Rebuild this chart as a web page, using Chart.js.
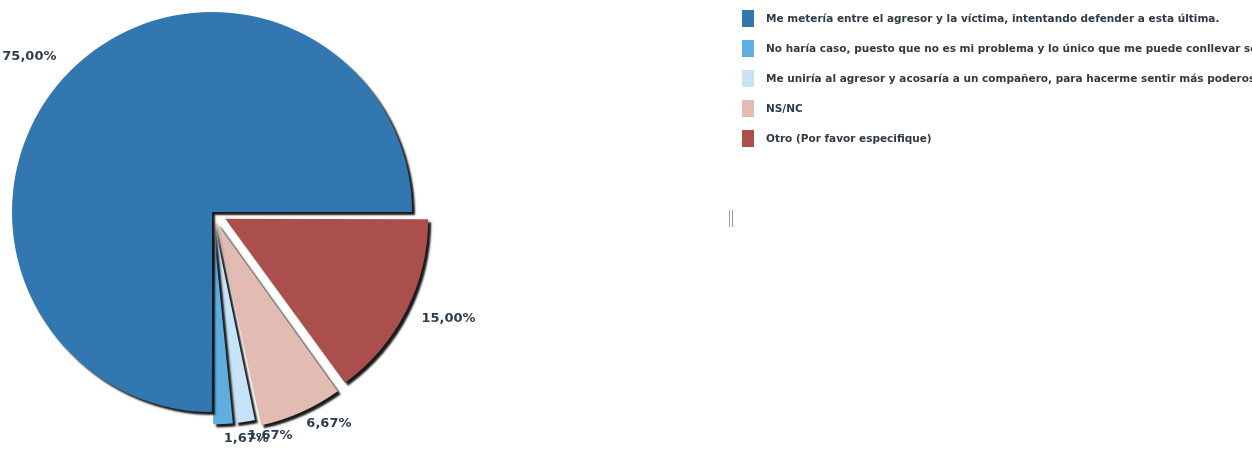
<!DOCTYPE html>
<html>
<head>
<meta charset="utf-8">
<script src="https://cdn.jsdelivr.net/npm/chart.js@4.4.1/dist/chart.umd.min.js"></script>
<style>
  html, body { margin: 0; padding: 0; background: #fff; overflow: hidden; }
  #wrap { position: relative; width: 1252px; height: 455px; }
  #pieChart { position: absolute; left: 0; top: 0; }
  #legend { position: absolute; left: 742px; top: 3px; width: 510px; overflow: hidden; }
  .item { height: 30px; display: flex; align-items: center; white-space: nowrap; }
  .box { width: 12px; height: 17px; margin-right: 12px; flex: none; }
  .txt { font: bold 10.5px "DejaVu Sans", Verdana, sans-serif; color: #2f3a44; }
  #grip { position: absolute; left: 729px; top: 210px; width: 2px; height: 17px;
          border-left: 1px solid #999; border-right: 1px solid #999; }
</style>
</head>
<body>
<div id="wrap">
  <canvas id="pieChart" width="1252" height="455"></canvas>
  <div id="legend"></div>
  <div id="grip"></div>
</div>
<script>
// respuestas de la encuesta (orden de la leyenda)
const respuestas = [
  'Me metería entre el agresor y la víctima, intentando defender a esta última.',
  'No haría caso, puesto que no es mi problema y lo único que me puede conllevar son problemas.',
  'Me uniría al agresor y acosaría a un compañero, para hacerme sentir más poderoso.',
  'NS/NC',
  'Otro (Por favor especifique)'
]
const porcentajes = [75.00, 1.67, 1.67, 6.67, 15.00]
const etiquetas = ['75,00%', '1,67%', '1,67%', '6,67%', '15,00%']
const colores = ['#3377b0', '#5eaee0', '#c6e3f8', '#e2bcb2', '#aa4f4c']
// offset de Chart.js para separar las porciones pequeñas
const desplaz = [0, 26, 26, 48, 60]

// la tarta arranca en las 3 y va en sentido horario: Otro, NS/NC, ... , la grande al final
const orden = [4, 3, 2, 1, 0]

// sombra negra bajo cada porción
const sombra = {
  id: 'sombra',
  beforeDatasetsDraw(chart) {
    const ctx = chart.ctx
    ctx.save()
    ctx.shadowColor = 'rgba(0,0,0,0.9)'
    ctx.shadowOffsetX = 3
    ctx.shadowOffsetY = 3
    ctx.shadowBlur = 2
  },
  afterDatasetsDraw(chart) {
    chart.ctx.restore()
  }
}

// porcentajes fuera de la tarta
const rotulos = {
  id: 'rotulos',
  afterDatasetsDraw(chart) {
    const ctx = chart.ctx
    const meta = chart.getDatasetMeta(0)
    ctx.save()
    ctx.font = 'bold 13px "DejaVu Sans", Verdana, sans-serif'
    ctx.fillStyle = '#2c3e50'
    ctx.textBaseline = 'middle'
    meta.data.forEach((arc, i) => {
      const p = arc.getProps(['x', 'y', 'startAngle', 'endAngle', 'outerRadius'], true)
      const mid = (p.startAngle + p.endAngle) / 2
      const off = (arc.options.offset || 0) / 4  // el arco se traslada offset/4
      const d = p.outerRadius + off + 20
      ctx.textAlign = Math.cos(mid) >= 0 ? 'left' : 'right'
      ctx.fillText(chart.data.labels2[i], p.x + Math.cos(mid) * d, p.y + Math.sin(mid) * d)
    })
    ctx.restore()
  }
}

const ctx = document.getElementById('pieChart').getContext('2d')
const chart = new Chart(ctx, {
  type: 'pie',
  data: {
    labels: orden.map(i => respuestas[i]),
    labels2: orden.map(i => etiquetas[i]),
    datasets: [{
      data: orden.map(i => porcentajes[i]),
      backgroundColor: orden.map(i => colores[i]),
      offset: orden.map(i => desplaz[i]),
      borderWidth: 0,
      radius: 200
    }]
  },
  options: {
    responsive: false,
    animation: false,
    rotation: 90,
    layout: { padding: { left: 0, top: 0, right: 828, bottom: 31 } },
    plugins: {
      legend: { display: false },
      tooltip: { enabled: false }
    }
  },
  plugins: [sombra, rotulos]
})

// leyenda en HTML
const legend = document.getElementById('legend')
respuestas.forEach((r, i) => {
  const row = document.createElement('div')
  row.className = 'item'
  row.innerHTML = '<span class="box" style="background:' + colores[i] + '"></span><span class="txt"></span>'
  row.querySelector('.txt').textContent = r
  legend.appendChild(row)
})
</script>
</body>
</html>
